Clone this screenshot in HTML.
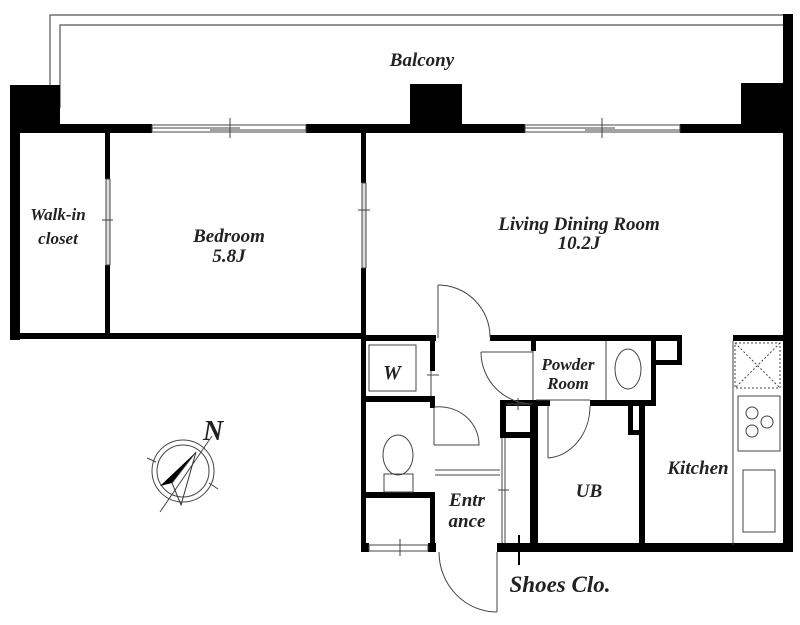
<!DOCTYPE html>
<html><head><style>
html,body{margin:0;padding:0;background:#fff;}
svg{display:block;}
text{font-family:"Liberation Serif",serif;font-style:italic;font-weight:bold;fill:#222;}
</style></head><body>
<svg width="800" height="625" viewBox="0 0 800 625" xmlns="http://www.w3.org/2000/svg">
<g fill="none" stroke="#555" stroke-width="1.2">
<polyline points="50,108 50,15 785,15"/>
<polyline points="60,108 60,25 783,25"/>
</g>
<g fill="#000">
<rect x="10" y="85" width="50" height="48"/>
<rect x="410" y="84" width="52" height="48"/>
<rect x="741" y="83" width="45" height="50"/>
<rect x="783" y="14" width="10" height="538"/>
<rect x="10" y="124" width="142" height="9"/>
<rect x="306" y="124" width="219" height="9"/>
<rect x="680" y="124" width="110" height="9"/>
<rect x="10" y="124" width="10" height="216"/>
<rect x="10" y="333" width="356" height="6"/>
<rect x="105" y="131" width="5" height="48"/>
<rect x="105" y="265" width="5" height="70"/>
<rect x="361" y="131" width="5" height="52"/>
<rect x="361" y="268" width="5" height="283"/>
<rect x="361" y="335" width="75" height="6"/>
<rect x="490" y="335" width="192" height="6"/>
<rect x="652" y="335" width="30" height="5"/>
<rect x="677" y="335" width="5" height="30"/>
<rect x="652" y="360" width="30" height="5"/>
<rect x="651" y="335" width="5" height="70"/>
<rect x="733" y="335" width="55" height="6"/>
<rect x="361" y="396" width="74" height="6"/>
<rect x="430" y="341" width="5" height="30"/>
<rect x="430" y="396" width="5" height="12"/>
<rect x="361" y="492" width="74" height="6"/>
<rect x="430" y="492" width="5" height="55"/>
<rect x="531" y="335" width="5" height="16"/>
<rect x="500" y="400" width="50" height="6"/>
<rect x="530" y="400" width="8" height="150"/>
<rect x="500" y="400" width="6" height="38"/>
<rect x="500" y="432" width="36" height="6"/>
<rect x="590" y="400" width="66" height="6"/>
<rect x="628" y="400" width="5" height="35"/>
<rect x="628" y="430" width="16" height="5"/>
<rect x="639" y="400" width="6" height="150"/>
<rect x="361" y="543" width="8" height="9"/>
<rect x="428" y="543" width="8" height="9"/>
<rect x="497" y="543" width="296" height="9"/>
</g>
<g fill="none" stroke="#444" stroke-width="1">
<rect x="152" y="125" width="154" height="7"/>
<line x1="152" y1="128" x2="240" y2="128"/><line x1="210" y1="130" x2="306" y2="130"/>
<line x1="230" y1="118" x2="230" y2="138"/>
<rect x="525" y="125" width="155" height="7"/>
<line x1="525" y1="128" x2="615" y2="128"/><line x1="585" y1="130" x2="680" y2="130"/>
<line x1="602" y1="118" x2="602" y2="138"/>
<rect x="106" y="179" width="4" height="86" fill="#ddd"/>
<line x1="102" y1="220" x2="113" y2="220"/>
<rect x="362" y="183" width="4" height="85" fill="#ddd"/>
<line x1="358" y1="210" x2="370" y2="210"/>
<line x1="438" y1="285" x2="438" y2="338"/>
<path d="M438,285 A52,52 0 0 1 490,337"/>
<rect x="369" y="345" width="47" height="46"/>
<line x1="431" y1="371" x2="431" y2="396"/><line x1="427" y1="375" x2="439" y2="375"/>
<line x1="481" y1="352" x2="533" y2="352"/>
<path d="M481,352 A52,52 0 0 0 533,404"/>
<line x1="533" y1="351" x2="533" y2="400"/>
<line x1="606" y1="341" x2="606" y2="400"/>
<ellipse cx="628" cy="369" rx="13" ry="20"/>
<line x1="536" y1="400" x2="590" y2="400"/>
<line x1="506" y1="404" x2="530" y2="404"/>
<line x1="518" y1="398" x2="518" y2="410"/>
<line x1="434" y1="408" x2="434" y2="445"/>
<path d="M434,407 A40,38 0 0 1 479,445 L434,445"/>
<ellipse cx="398" cy="455" rx="15" ry="20"/>
<rect x="384" y="474" width="29" height="18"/>
<line x1="435" y1="470" x2="500" y2="470"/>
<line x1="435" y1="475" x2="500" y2="475"/>
<line x1="502" y1="438" x2="502" y2="543"/><line x1="505" y1="438" x2="505" y2="543"/>
<line x1="498" y1="490" x2="509" y2="490"/>
<line x1="548" y1="406" x2="548" y2="458"/>
<path d="M548,458 A45,52 0 0 0 590,406"/>
<rect x="369" y="545" width="59" height="6"/>
<line x1="400" y1="539" x2="400" y2="556"/>
<line x1="497" y1="552" x2="497" y2="612"/>
<path d="M439,552 A58,60 0 0 0 497,612"/>
<line x1="519" y1="535" x2="519" y2="565" stroke="#000" stroke-width="2"/>
<line x1="733" y1="341" x2="733" y2="545"/>
<rect x="735" y="343" width="45" height="45" stroke-dasharray="2,2"/>
<line x1="735" y1="343" x2="780" y2="388" stroke-dasharray="2,2"/>
<line x1="780" y1="343" x2="735" y2="388" stroke-dasharray="2,2"/>
<rect x="738" y="396" width="42" height="55"/>
<circle cx="752" cy="413" r="6"/><circle cx="767" cy="422" r="6"/><circle cx="752" cy="431" r="6"/>
<rect x="743" y="470" width="32" height="62"/>
<circle cx="183" cy="471" r="31"/><circle cx="183" cy="471" r="26"/>
<line x1="212" y1="436" x2="160" y2="512"/>
<line x1="147" y1="458" x2="156" y2="462"/>
<line x1="209" y1="483" x2="218" y2="489"/>
</g>
<path d="M196,452 L160,486 L172,483 Z" fill="#000"/>
<path d="M196,452 L172,483 L181,505 Z" fill="none" stroke="#333"/>
<text x="203" y="440" font-size="28">N</text>
<g font-size="19" text-anchor="middle">
<text x="422" y="66">Balcony</text>
<text x="58" y="220" font-size="17">Walk-in</text>
<text x="58" y="244" font-size="17">closet</text>
<text x="229" y="242">Bedroom</text>
<text x="229" y="262">5.8J</text>
<text x="579" y="230">Living Dining Room</text>
<text x="579" y="249">10.2J</text>
<text x="392" y="379" font-size="20">W</text>
<text x="568" y="370" font-size="17">Powder</text>
<text x="568" y="389" font-size="17">Room</text>
<text x="589" y="497">UB</text>
<text x="698" y="474">Kitchen</text>
<text x="467" y="506">Entr</text>
<text x="467" y="527">ance</text>
<text x="560" y="592" font-size="23">Shoes Clo.</text>
</g>
</svg>
</body></html>
